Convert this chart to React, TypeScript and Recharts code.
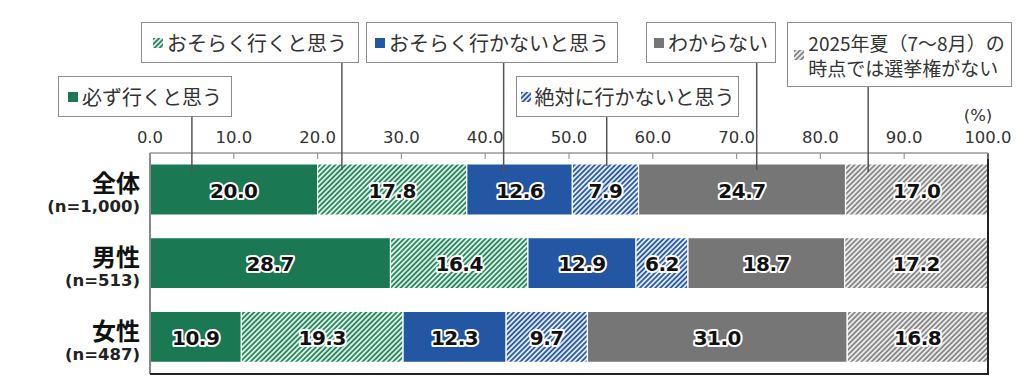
import React from 'react';
import { BarChart, Bar, XAxis, YAxis, LabelList, ReferenceLine } from 'recharts';

const categories = ['全体', '男性', '女性'];
const sampleSizes = ['(n=1,000)', '(n=513)', '(n=487)'];

const definitelyGo = [20.0, 28.7, 10.9];
const probablyGo = [17.8, 16.4, 19.3];
const probablyNotGo = [12.6, 12.9, 12.3];
const definitelyNotGo = [7.9, 6.2, 9.7];
const dontKnow = [24.7, 18.7, 31.0];
const noVotingRight = [17.0, 17.2, 16.8];

const seriesNames = [
    ['必ず行くと思う'],
    ['おそらく行くと思う'],
    ['おそらく行かないと思う'],
    ['絶対に行かないと思う'],
    ['わからない'],
    ['2025年夏（7～8月）の', '時点では選挙権がない'],
];

const xTicks = [0, 10, 20, 30, 40, 50, 60, 70, 80, 90, 100];

const data = categories.map((name, i) => ({
    name,
    n: sampleSizes[i],
    s0: definitelyGo[i],
    s1: probablyGo[i],
    s2: probablyNotGo[i],
    s3: definitelyNotGo[i],
    s4: dontKnow[i],
    s5: noVotingRight[i],
}));

const fills = ['#1a7852', 'url(#hatchGreen)', '#2356a3', 'url(#hatchBlue)', '#767676', 'url(#hatchGray)'];

// chart geometry
const W = 1024;
const H = 390;
const PLOT_LEFT = 150;
const PLOT_RIGHT = 988;
const TICK_MARGIN = 8;
const toX = (v: number) => PLOT_LEFT + (v / 100) * (PLOT_RIGHT - PLOT_LEFT);

// callout boxes (anchor is the value on the x axis where the leader line drops)
const callouts = [
    { box: { x: 58, y: 76, w: 174, h: 41 }, anchor: 5.0, lineEnd: 173, fs: 20 },
    { box: { x: 141, y: 22, w: 218, h: 41 }, anchor: 22.9, lineEnd: 170, fs: 20 },
    { box: { x: 366, y: 22, w: 252, h: 41 }, anchor: 42.2, lineEnd: 173, fs: 20 },
    { box: { x: 516, y: 76, w: 223, h: 41 }, anchor: 54.5, lineEnd: 166, fs: 20 },
    { box: { x: 646, y: 22, w: 130, h: 41 }, anchor: 72.4, lineEnd: 170, fs: 20 },
    { box: { x: 787, y: 22, w: 225, h: 65 }, anchor: 85.7, lineEnd: 172, fs: 19 },
];

const Hatch = ({ id, bg, line }: { id: string; bg: string; line: string }) => (
    <pattern id={id} patternUnits="userSpaceOnUse" width={3.6} height={3.6} patternTransform="rotate(45)">
        <rect width={3.6} height={3.6} fill={bg} />
        <rect width={1.8} height={3.6} fill={line} />
    </pattern>
);

const XTick = ({ x, y, payload }: any) => (
    <g>
        <text x={x} y={y - 2} textAnchor="middle" fontSize={16.5} fill="#333" fontFamily="DejaVu Sans">
            {Number(payload.value).toFixed(1)}
        </text>
        <line x1={x} x2={x} y1={y + TICK_MARGIN} y2={y + TICK_MARGIN + 6} stroke="#999" strokeWidth={1.2} />
    </g>
);

const YTick = ({ x, y, payload, index }: any) => (
    <g>
        <text x={x} y={y - 8} textAnchor="end" dominantBaseline="central" fontSize={24} fontWeight={700}
            fill="#111" fontFamily="'Noto Sans CJK JP'">
            {payload.value}
        </text>
        <text x={x} y={y + 17} textAnchor="end" dominantBaseline="central" fontSize={16.5} fontWeight={700}
            fill="#222" fontFamily="DejaVu Sans">
            {sampleSizes[index]}
        </text>
    </g>
);

const ValueLabel = ({ x, y, width, height, value }: any) => (
    <text x={x + width / 2} y={y + height / 2 + 1} textAnchor="middle" dominantBaseline="central"
        fontSize={20} fontWeight={700} fontFamily="DejaVu Sans" fill="#111" letterSpacing={-0.5}
        stroke="#fff" strokeWidth={4} strokeLinejoin="round" paintOrder="stroke">
        {Number(value).toFixed(1)}
    </text>
);

export default function App() {
    return (
        <div style={{ position: 'fixed', left: 0, top: 0, width: W, height: H, background: '#fff' }}>
            <svg width={0} height={0} style={{ position: 'absolute' }}>
                <defs>
                    <Hatch id="hatchGreen" bg="#dcf0e8" line="#2a875f" />
                    <Hatch id="hatchBlue" bg="#e1e9f6" line="#2c5ca6" />
                    <Hatch id="hatchGray" bg="#ebebeb" line="#888" />
                </defs>
            </svg>
            <div style={{ position: 'absolute', left: 0, top: 0 }}>
                <BarChart width={W} height={H} data={data} layout="vertical" barSize={51}
                    margin={{ top: 123, right: W - PLOT_RIGHT, bottom: 15, left: 0 }}>
                    <XAxis xAxisId="top" type="number" orientation="top" domain={[0, 100]} ticks={xTicks}
                        allowDataOverflow height={30} axisLine={{ stroke: '#999', strokeWidth: 1.5 }}
                        tickLine={false} tickSize={0} tickMargin={TICK_MARGIN} tick={<XTick />} interval={0} />
                    <XAxis xAxisId="bottom" type="number" orientation="bottom" domain={[0, 100]} height={1}
                        axisLine={{ stroke: '#222', strokeWidth: 2 }} tick={false} tickLine={false} />
                    <YAxis type="category" dataKey="name" width={PLOT_LEFT} axisLine={{ stroke: '#888', strokeWidth: 2 }}
                        tickLine={false} tickSize={0} tickMargin={10} tick={<YTick />} interval={0} />
                    {fills.map((fill, i) => (
                        <Bar key={i} xAxisId="top" dataKey={`s${i}`} stackId="a" fill={fill}
                            stroke="#fff" strokeWidth={1.2} isAnimationActive={false}>
                            <LabelList dataKey={`s${i}`} content={<ValueLabel />} />
                        </Bar>
                    ))}
                    <ReferenceLine xAxisId="top" x={100} stroke="#222" strokeWidth={2} />
                </BarChart>
            </div>
            <div style={{ position: 'absolute', left: PLOT_RIGHT - 10, top: 106, fontSize: 16.5, color: '#333',
                fontFamily: 'DejaVu Sans', transform: 'translateX(-50%)' }}>(%)</div>
            <svg width={W} height={H} style={{ position: 'absolute', left: 0, top: 0, pointerEvents: 'none' }}>
                <line x1={PLOT_LEFT} x2={PLOT_RIGHT + 1} y1={374} y2={374} stroke="#222" strokeWidth={2} />
                {callouts.map((c, i) => (
                    <line key={i} x1={toX(c.anchor)} x2={toX(c.anchor)} y1={c.box.y + c.box.h} y2={c.lineEnd}
                        stroke="#555" strokeWidth={1.5} />
                ))}
            </svg>
            {callouts.map((c, i) => (
                <div key={i} style={{
                    position: 'absolute', left: c.box.x, top: c.box.y, width: c.box.w, height: c.box.h,
                    boxSizing: 'border-box', border: '1.5px solid #8c8c8c', background: '#fff',
                    display: 'flex', alignItems: 'center', justifyContent: 'center', gap: 4,
                    fontFamily: "'Noto Sans CJK JP'", fontSize: c.fs, color: '#333', lineHeight: '25px',
                }}>
                    <svg width={10} height={10} style={{ flex: 'none' }}>
                        <rect width={10} height={10} fill={fills[i]} />
                    </svg>
                    <div style={{ whiteSpace: 'nowrap' }}>
                        {seriesNames[i].map((t, j) => <div key={j}>{t}</div>)}
                    </div>
                </div>
            ))}
        </div>
    );
}
